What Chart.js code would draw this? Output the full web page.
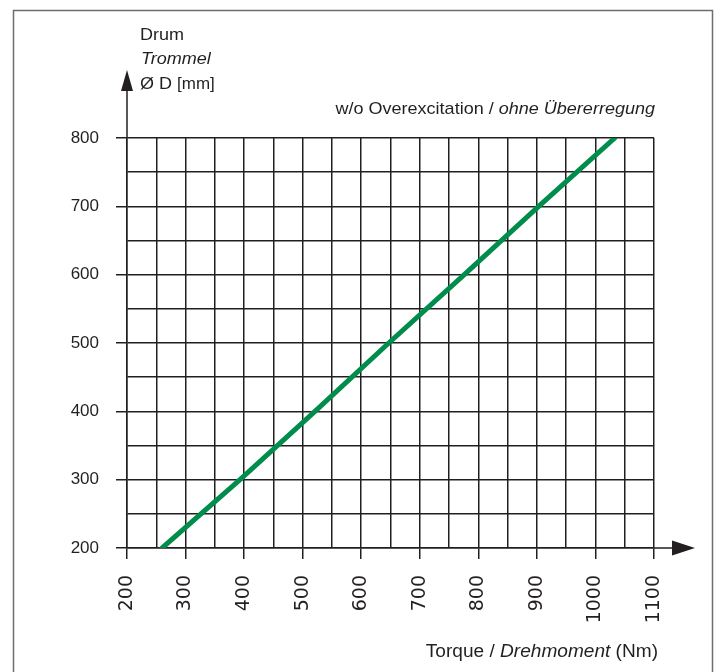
<!DOCTYPE html>
<html>
<head>
<meta charset="utf-8">
<script src="https://cdn.jsdelivr.net/npm/chart.js@4/dist/chart.umd.min.js"></script>
<style>
    body { margin: 0; background: #fff; }
    #wrap { width: 717px; height: 672px; }
</style>
</head>
<body>
<div id="wrap"><canvas id="myChart" width="717" height="672"></canvas></div>
<script>
// drum diameter (mm) vs. torque (Nm)
const drumDiameter = [200, 300, 400, 500, 600, 700, 800]
const torque = [260, 393, 521, 647, 776, 903, 1033]
const torqueTicks = [200, 300, 400, 500, 600, 700, 800, 900, 1000, 1100]
const drumTicks = [200, 300, 400, 500, 600, 700, 800]

const ink = '#231f20'
const green = '#008d4c'
const sans = '"Liberation Sans", Arial, sans-serif'
const stretch = 1.06

const isMajor = (list, v) => list.includes(v)

// frame, axis arrows and the free texts
const decorations = {
    id: 'decorations',
    beforeDraw: (chart) => {
        const c = chart.ctx
        c.save()
        c.fillStyle = '#fff'
        c.fillRect(0, 0, chart.width, chart.height)
        c.strokeStyle = '#6d6e70'
        c.lineWidth = 1.5
        c.strokeRect(13.5, 10.5, 699, 700)
        c.restore()
    },
    afterDraw: (chart) => {
        const c = chart.ctx
        const x = chart.scales.x
        const y = chart.scales.y
        const left = x.getPixelForValue(200)
        const bottom = y.getPixelForValue(200)
        const top = y.getPixelForValue(800)
        const right = x.getPixelForValue(1100)
        c.save()
        c.strokeStyle = ink
        c.fillStyle = ink
        c.lineWidth = 1.5
        // vertical axis arrow
        c.beginPath()
        c.moveTo(left, top)
        c.lineTo(left, top - 50)
        c.stroke()
        c.beginPath()
        c.moveTo(left, top - 68)
        c.lineTo(left - 6, top - 47)
        c.lineTo(left + 6, top - 47)
        c.closePath()
        c.fill()
        // horizontal axis arrow
        c.beginPath()
        c.moveTo(right, bottom)
        c.lineTo(right + 20, bottom)
        c.stroke()
        c.beginPath()
        c.moveTo(right + 41, bottom)
        c.lineTo(right + 18, bottom - 7.5)
        c.lineTo(right + 18, bottom + 7.5)
        c.closePath()
        c.fill()

        c.textBaseline = 'alphabetic'
        c.textAlign = 'left'

        // runs of roman / italic text, slightly widened like the original type
        const widthOf = (parts) => parts.reduce((sum, p) => {
            c.font = p.font
            return sum + c.measureText(p.text).width * stretch
        }, 0)
        const runs = (parts, x0, yb) => {
            let cx = x0
            parts.forEach((p) => {
                c.font = p.font
                c.save()
                c.translate(cx, yb)
                c.scale(stretch, 1)
                c.fillText(p.text, 0, 0)
                c.restore()
                cx += c.measureText(p.text).width * stretch
            })
        }

        runs([{ text: 'Drum', font: `17px ${sans}` }], 140, 40)
        runs([{ text: 'Trommel', font: `italic 17px ${sans}` }], 141, 64)
        runs([
            { text: 'Ø D ', font: `17px ${sans}` },
            { text: '[mm]', font: `16px ${sans}` },
        ], 140, 89)

        const note = [
            { text: 'w/o Overexcitation / ', font: `17px ${sans}` },
            { text: 'ohne Übererregung', font: `italic 17px ${sans}` },
        ]
        runs(note, 655 - widthOf(note), 114)

        const xTitle = [
            { text: 'Torque / ', font: `18px ${sans}` },
            { text: 'Drehmoment', font: `italic 18px ${sans}` },
            { text: ' (Nm)', font: `18px ${sans}` },
        ]
        runs(xTitle, 658 - widthOf(xTitle), 657)
        c.restore()
    },
}

const config = {
    type: 'scatter',
    data: {
        datasets: [
            {
                label: 'w/o Overexcitation',
                data: torque.map((t, i) => ({ x: t, y: drumDiameter[i] })),
                showLine: true,
                borderColor: green,
                borderWidth: 5,
                pointRadius: 0,
                borderCapStyle: 'round',
                tension: 0,
            },
        ],
    },
    options: {
        responsive: false,
        animation: false,
        events: [],
        layout: {
            padding: { left: 0, top: 138, right: 63, bottom: 24 },
        },
        plugins: {
            legend: { display: false },
            tooltip: { enabled: false },
        },
        scales: {
            x: {
                type: 'linear',
                min: 200,
                max: 1100,
                afterFit: (scale) => { scale.height = 100 },
                border: { display: true, color: ink, width: 1.5 },
                grid: {
                    color: ink,
                    lineWidth: 1.5,
                    drawTicks: true,
                    tickLength: 11,
                    tickColor: (ctx) => isMajor(torqueTicks, ctx.tick.value) ? ink : 'rgba(0,0,0,0)',
                },
                ticks: {
                    stepSize: 50,
                    autoSkip: false,
                    minRotation: 90,
                    maxRotation: 90,
                    padding: 16,
                    color: ink,
                    font: { family: '"DejaVu Sans", sans-serif', size: 19 },
                    callback: (v) => isMajor(torqueTicks, v) ? String(v) : '',
                },
            },
            y: {
                type: 'linear',
                min: 200,
                max: 800,
                afterFit: (scale) => { scale.width = 127 },
                border: { display: true, color: ink, width: 1.5 },
                grid: {
                    color: ink,
                    lineWidth: 1.5,
                    drawTicks: true,
                    tickLength: 11,
                    tickColor: (ctx) => isMajor(drumTicks, ctx.tick.value) ? ink : 'rgba(0,0,0,0)',
                },
                ticks: {
                    stepSize: 50,
                    autoSkip: false,
                    padding: 17,
                    color: ink,
                    font: { family: sans, size: 17 },
                    callback: (v) => isMajor(drumTicks, v) ? String(v) : '',
                },
            },
        },
    },
    plugins: [decorations],
}

const ctx = document.getElementById('myChart')
const myChart = new Chart(ctx, config)
</script>
</body>
</html>
